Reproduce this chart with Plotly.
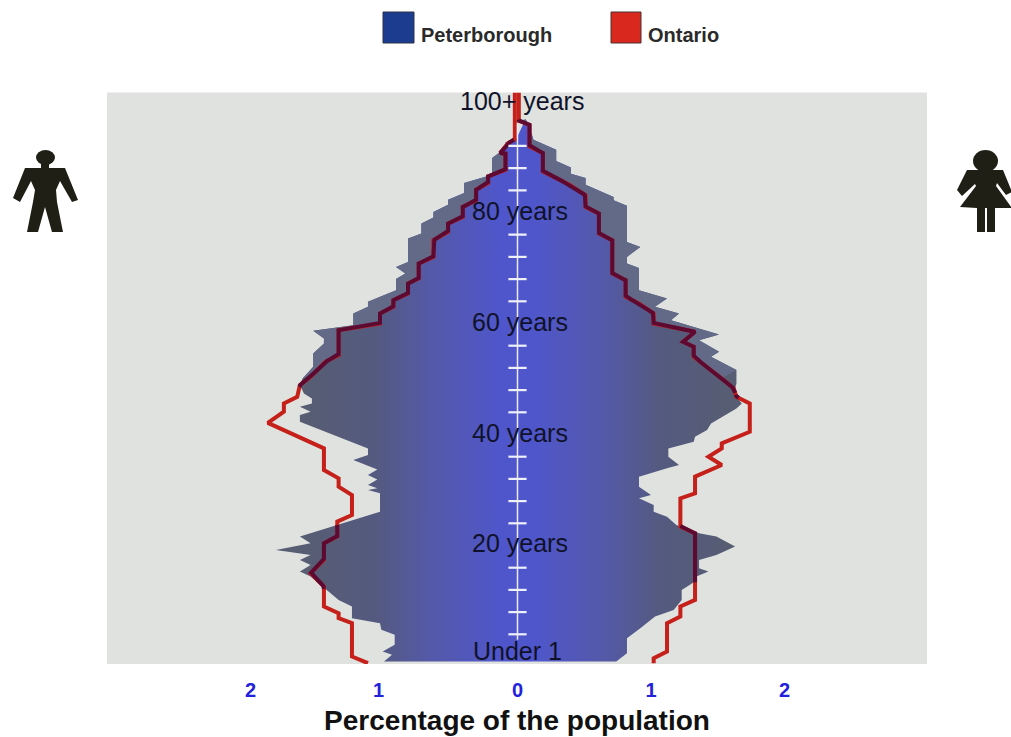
import numpy as np
import plotly.graph_objects as go

# Peterborough, male (left side), top to bottom
pb_male_age = [93.2,92.6,91.6,89.8,86.8,85.3,83.5,82.3,81.4,80.1,79.1,78.0,76.2,75.3,71.1,70.2,69.0,68,66,63.9,63,61.8,59.7,58.7,57.3,56.4,54.6,52.2,50.1,
               48.9,47.4,46.5,45.6,45,44.1,43.5,42.3,37.5,36.3,35.4,33.7,32.7,31.9,30.9,30.3,30,29.4,26.1,21.6,20.4,20.1,19.2,18.3,17.4,16.5,15.3,14.4,11.4,10.2,9,6.9,6,4.8,3.9,2.1,.9,.3,-.9]
pb_male_pct = [.01,.09,.09,.19,.19,.40,.40,.52,.52,.63,.63,.72,.72,.82,.82,.91,.84,.91,.91,1.12,1.12,1.23,1.23,1.53,1.45,1.45,1.53,1.53,1.61,
               1.63,1.60,1.54,1.54,1.63,1.55,1.63,1.63,1.12,1.12,1.23,1.05,1.12,1.05,1.12,1.05,1.12,1.03,1.03,1.63,1.55,1.63,1.81,1.55,1.63,1.55,1.63,1.55,1.40,1.34,1.24,1.24,1.03,1.02,.92,.92,1.01,.94,1.0]
# Peterborough, female (right side)
pb_female_age = [96.8,96.1,93.1,91.3,89.3,88.1,87,86.2,85,82.8,82.2,81.2,74.7,73.8,72,70.8,70,66,64.5,63,61.8,60.6,58,57,54.9,54,51.6,49.8,
                 49.2,47.4,45.6,44.7,42,40.8,39.6,38.7,37.5,36,34.5,33.9,32.4,30.6,29.1,28.5,27.3,26.1,25.2,23.7,22.2,21.6,19.8,18.3,17.4,15.9,15.3,14.4,13.5,12,10.2,8.4,7.2,5.1,3.3,.6,-.9]
pb_female_pct = [.06,.08,.12,.29,.29,.40,.40,.51,.51,.72,.72,.82,.82,.92,.82,.82,.91,.91,1.12,1.03,1.21,1.15,1.51,1.36,1.51,1.45,1.64,1.64,
                 1.64,1.62,1.68,1.64,1.45,1.42,1.33,1.32,1.13,1.13,1.21,1.12,.91,.91,1.00,.91,1.02,1.02,1.12,1.19,1.36,1.49,1.63,1.49,1.36,1.36,1.43,1.34,1.33,1.23,1.23,1.17,1.03,.92,.82,.82,.74]
# Ontario, male
on_male_age = [101.6,93.2,92.5,90.7,90.6,87.7,86.5,85.3,84.1,82.2,81,79.2,78,76.5,75,72,70.8,68.1,67.2,65.4,64.2,63,61.8,60,58.8,54.3,53.1,50.4,
               48.9,46.8,45.6,44.1,42.1,37.5,33.6,32.1,30.6,29.1,25.5,24.3,21.6,20.4,17.4,15,12.6,9,7.8,6.9,6,0,-1.2]
on_male_pct = [.02,.02,.07,.13,.09,.09,.22,.22,.31,.31,.41,.41,.52,.52,.63,.63,.74,.74,.82,.82,.93,.93,1.03,1.03,1.34,1.34,1.44,1.55,
               1.63,1.65,1.75,1.75,1.87,1.45,1.45,1.34,1.34,1.24,1.24,1.35,1.35,1.45,1.45,1.55,1.45,1.45,1.34,1.34,1.24,1.24,1.12]
# Ontario, female
on_female_age = [101.6,96.5,95.8,91.9,90.7,87.4,85,83.1,81,79.8,76.2,75,69,67.8,64.8,63.6,61.8,60,58.5,56.7,55.8,54,50.1,
                 48.3,46.8,45.6,40.5,38.4,37.5,36,34.5,32.4,29.4,28.5,23.4,22.2,10.2,9,7.2,6,.9,-.3,-1.2]
on_female_pct = [.01,.01,.09,.09,.19,.19,.39,.51,.51,.61,.61,.71,.71,.81,.81,.91,1.02,1.02,1.33,1.24,1.32,1.32,1.53,
                 1.62,1.64,1.74,1.74,1.53,1.53,1.43,1.53,1.33,1.33,1.22,1.22,1.33,1.33,1.22,1.22,1.12,1.12,1.02,1.02]

age_labels = ["100+ years", "80 years", "60 years", "40 years", "20 years", "Under 1"]
age_label_pos = [100, 80, 60, 40, 20, 0]
age_label_dx = [4, 2, 2, 2, 2, 0]
age_label_dy = [-1, -2, -2, -2, -3, -6]
dash_ages = [4, 8, 12, 16, 24, 28, 32, 36, 44, 48, 52, 56, 64, 68, 72, 76, 84, 88, 92]
x_tick_vals = [-2, -1.04, 0, 1, 2]
x_tick_text = ["2", "1", "0", "1", "2"]
legend_names = ["Peterborough", "Ontario"]

W, H = 1011, 737
L, R, T, B = 107, 927, 92.5, 664
PX_PER_PCT, CX = 133.5, 517.5
PX_PER_YEAR, AGE0 = 5.55, 656.5
xr = [(L - CX) / PX_PER_PCT, (R - CX) / PX_PER_PCT]
yr = [(AGE0 - B) / PX_PER_YEAR, (AGE0 - T) / PX_PER_YEAR]

BG = "#dfe2df"
RED, MAROON = "#c5201a", "#5c0a32"
BAND = "#626a88"

fig = go.Figure()
poly_x = [-v for v in pb_male_pct[::-1]] + pb_female_pct
poly_y = pb_male_age[::-1] + pb_female_age
fig.add_trace(go.Scatter(
    x=poly_x + [poly_x[0]], y=poly_y + [poly_y[0]], mode="lines", fill="toself",
    line=dict(width=0), showlegend=False, hoverinfo="skip",
    fillgradient=dict(type="horizontal", start=-1.85, stop=1.85,
                      colorscale=[[0, "#575d72"], [0.068, "#575d72"], [0.216, "#545a80"], [0.324, "#5459a8"],
                                  [0.47, "#4f56cc"], [0.53, "#4f56cc"], [0.676, "#5459a8"], [0.784, "#545a80"],
                                  [0.932, "#575d72"], [1, "#575d72"]]),
))


def band(sign, env_age, env_pct, line_age, line_pct):
    """Greyer strip between the Peterborough edge and the Ontario line, upper half of the pyramid."""
    ea = [a for a in env_age if a >= 50]
    ep = [p for a, p in zip(env_age, env_pct) if a >= 50]
    la = [a for a in line_age if 50 <= a <= ea[0]]
    lp = [p for a, p in zip(line_age, line_pct) if 50 <= a <= ea[0]]
    xs = [sign * v for v in ep + lp[::-1]]
    ys = ea + la[::-1]
    fig.add_trace(go.Scatter(x=xs + [xs[0]], y=ys + [ys[0]], mode="lines", fill="toself", fillcolor=BAND,
                             line=dict(width=0), showlegend=False, hoverinfo="skip"))


band(-1, pb_male_age, pb_male_pct, on_male_age, on_male_pct)
band(1, pb_female_age, pb_female_pct, on_female_age, on_female_pct)


def ontario(sign, ages, pct, env_age, env_pct):
    xs = [sign * v for v in pct]
    fig.add_trace(go.Scatter(x=xs, y=ages, mode="lines", line=dict(color=RED, width=4),
                             showlegend=False, hoverinfo="skip"))
    # the part of the Ontario line that lies over the Peterborough area reads darker
    fine = np.arange(min(ages), max(ages), 0.1)
    a = np.array(ages[::-1]); p = np.array(pct[::-1])
    e_a = np.array(env_age[::-1]); e_p = np.array(env_pct[::-1])
    line = np.interp(fine, a, p)
    env = np.interp(fine, e_a, e_p)
    inside = (line <= env + 0.01) & (fine <= max(env_age))
    ox = np.where(inside, sign * line, np.nan)
    oy = np.where(inside, fine, np.nan)
    fig.add_trace(go.Scatter(x=ox, y=oy, mode="lines", line=dict(color=MAROON, width=4),
                             connectgaps=False, showlegend=False, hoverinfo="skip"))


ontario(-1, on_male_age, on_male_pct, pb_male_age, pb_male_pct)
ontario(1, on_female_age, on_female_pct, pb_female_age, pb_female_pct)

# central axis with its dashes
fig.add_trace(go.Scatter(x=[0, 0], y=[3, 96], mode="lines", line=dict(color="#e8eaf8", width=1.5),
                         showlegend=False, hoverinfo="skip"))
fig.add_trace(go.Scatter(x=[0] * len(dash_ages), y=dash_ages, mode="markers",
                         marker=dict(symbol="line-ew", size=13, line=dict(color="#eef0fa", width=2.2)),
                         showlegend=False, hoverinfo="skip"))

annotations = []
for txt, a, dx, dy in zip(age_labels, age_label_pos, age_label_dx, age_label_dy):
    annotations.append(dict(x=0, y=a, xref="x", yref="y", text=txt, showarrow=False, xshift=dx, yshift=-dy,
                            font=dict(family="Liberation Sans", size=25, color="#10122a")))


def px(x):
    return x / W


def py(y):
    return 1 - y / H


def path(points):
    return "M " + " L ".join(f"{px(x):.5f},{py(y):.5f}" for x, y in points) + " Z"


ICON = "#1f1f16"
man = [(25, 168), (41, 168), (41, 160), (49, 160), (49, 168), (65, 168), (78, 200), (72, 202), (60, 181),
       (56, 190), (57, 202), (63, 232), (52, 232), (45, 207), (38, 232), (27, 232), (33, 202), (35, 190),
       (31, 181), (20, 202), (13, 198)]
woman = [(967, 170), (1003, 170), (1012, 192), (1006, 195), (997, 183), (996, 186), (1012, 208), (995, 208),
         (995, 232), (987, 232), (987, 208), (985, 208), (985, 232), (977, 232), (977, 208), (960, 207),
         (976, 186), (975, 184), (962, 196), (957, 190)]
shapes = [
    dict(type="path", path=path(man), xref="paper", yref="paper", fillcolor=ICON, line_width=0, layer="above"),
    dict(type="path", path=path(woman), xref="paper", yref="paper", fillcolor=ICON, line_width=0, layer="above"),
    dict(type="circle", xref="paper", yref="paper", x0=px(36), x1=px(55), y0=py(165), y1=py(150),
         fillcolor=ICON, line_width=0),
    dict(type="circle", xref="paper", yref="paper", x0=px(973), x1=px(998), y0=py(172), y1=py(150),
         fillcolor=ICON, line_width=0),
    dict(type="rect", xref="paper", yref="paper", x0=px(383), x1=px(414), y0=py(43), y1=py(12),
         fillcolor="#1c3d8f", line=dict(color="#2a3348", width=1)),
    dict(type="rect", xref="paper", yref="paper", x0=px(611), x1=px(641), y0=py(43), y1=py(12),
         fillcolor="#d9281e", line=dict(color="#4a3030", width=1)),
]
for name, x0 in zip(legend_names, [419, 646]):
    annotations.append(dict(x=px(x0), y=py(35), xref="paper", yref="paper", text=f"<b>{name}</b>", showarrow=False,
                            xanchor="left", yanchor="middle",
                            font=dict(family="Liberation Sans", size=20, color="#2a2a2a")))

fig.update_layout(
    width=W, height=H, margin=dict(l=0, r=0, t=0, b=0), paper_bgcolor="white", plot_bgcolor=BG,
    shapes=shapes, annotations=annotations, showlegend=False,
    xaxis=dict(domain=[L / W, R / W], range=xr, tickvals=x_tick_vals, ticktext=x_tick_text, showgrid=False,
               zeroline=False, showline=False, ticks="", ticklabelstandoff=12,
               tickfont=dict(family="Liberation Sans", size=20, color="#2222dd", weight="bold"),
               title=dict(text="<b>Percentage of the population</b>", standoff=10,
                          font=dict(family="Liberation Sans", size=28, color="#111111"))),
    yaxis=dict(domain=[1 - B / H, 1 - T / H], range=yr, showgrid=False, zeroline=False, showline=False,
               showticklabels=False, ticks=""),
)

fig.write_html("out.html", config={"displayModeBar": False},
               post_script="document.body.style.margin='0';document.documentElement.style.overflow='hidden';")
